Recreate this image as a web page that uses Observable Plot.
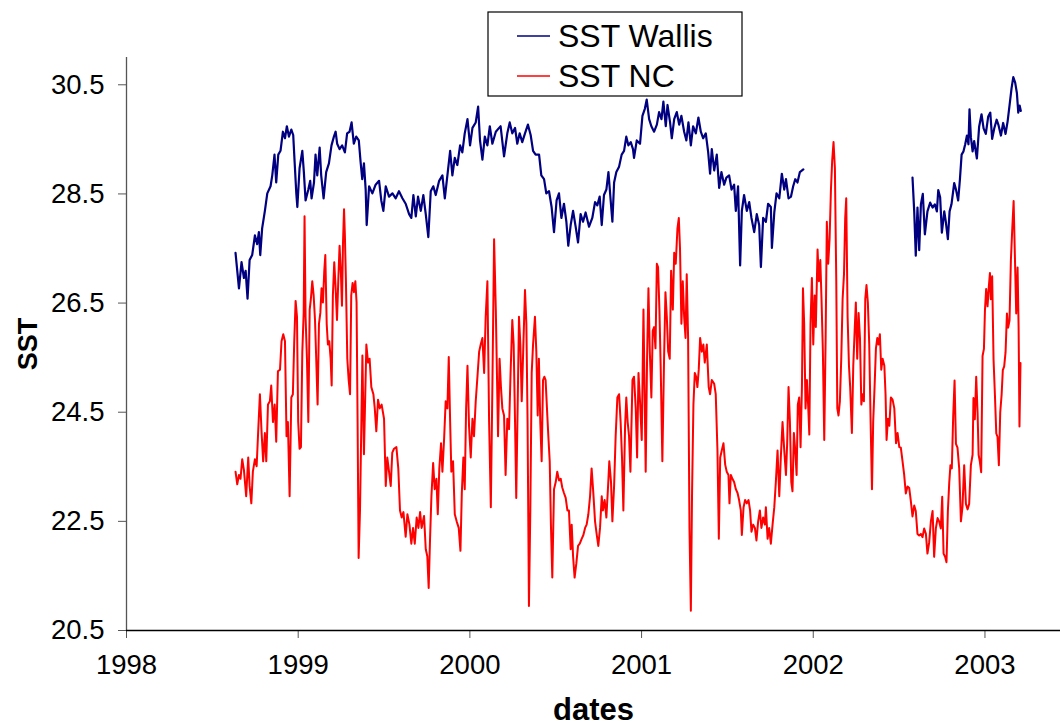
<!DOCTYPE html>
<html>
<head>
<meta charset="utf-8">
<script src="https://cdn.jsdelivr.net/npm/d3@7"></script>
<script src="https://cdn.jsdelivr.net/npm/@observablehq/plot@0.6"></script>
<style>
  html, body { margin: 0; padding: 0; background: #ffffff; }
  #wrap { position: relative; width: 1060px; height: 727px; font-family: "Liberation Sans", Arial, sans-serif; }
  #legend { position: absolute; left: 488px; top: 12px; }
</style>
</head>
<body>
<div id="wrap"></div>
<script>
// ---- Data (decimal years, SST in °C) ----
const yearTicks = [1998, 1999, 2000, 2001, 2002, 2003];
const sstTicks = [20.5, 22.5, 24.5, 26.5, 28.5, 30.5];
const seriesNames = ["SST Wallis", "SST NC"];

// SST Wallis, first segment (Aug 1998 - Dec 2001)
const wallisYears1 = [
1998.635,1998.655,1998.670,1998.684,1998.694,1998.705,1998.717,1998.732,1998.748,1998.761,
1998.771,1998.779,1998.790,1998.806,1998.820,1998.839,1998.849,1998.862,1998.872,1998.884,
1998.897,1998.911,1998.923,1998.934,1998.946,1998.960,1998.971,1998.979,1998.989,1998.995,
1999.008,1999.024,1999.033,1999.043,1999.059,1999.070,1999.078,1999.092,1999.101,1999.111,
1999.125,1999.134,1999.148,1999.163,1999.179,1999.194,1999.208,1999.218,1999.227,1999.241,
1999.256,1999.272,1999.285,1999.299,1999.311,1999.324,1999.338,1999.353,1999.363,1999.373,
1999.383,1999.393,1999.399,1999.413,1999.432,1999.451,1999.471,1999.484,1999.496,1999.510,
1999.529,1999.549,1999.568,1999.587,1999.607,1999.626,1999.646,1999.659,1999.671,1999.685,
1999.698,1999.714,1999.729,1999.743,1999.758,1999.772,1999.787,1999.801,1999.821,1999.840,
1999.854,1999.869,1999.885,1999.898,1999.912,1999.927,1999.943,1999.956,1999.970,1999.986,
2000.001,2000.015,2000.034,2000.048,2000.059,2000.073,2000.087,2000.102,2000.116,2000.131,
2000.151,2000.170,2000.179,2000.199,2000.218,2000.232,2000.247,2000.263,2000.276,2000.290,
2000.305,2000.321,2000.338,2000.354,2000.368,2000.383,2000.403,2000.416,2000.432,2000.445,
2000.461,2000.476,2000.490,2000.505,2000.519,2000.533,2000.548,2000.562,2000.573,2000.587,
2000.601,2000.616,2000.630,2000.645,2000.659,2000.674,2000.694,2000.713,2000.729,2000.742,
2000.756,2000.768,2000.781,2000.795,2000.807,2000.820,2000.830,2000.840,2000.853,2000.869,
2000.884,2000.898,2000.911,2000.923,2000.937,2000.950,2000.956,2000.972,2000.991,2001.005,
2001.019,2001.030,2001.044,2001.057,2001.073,2001.089,2001.102,2001.116,2001.127,2001.141,
2001.151,2001.166,2001.176,2001.190,2001.205,2001.219,2001.232,2001.248,2001.261,2001.273,
2001.287,2001.300,2001.316,2001.331,2001.345,2001.359,2001.374,2001.388,2001.399,2001.409,
2001.423,2001.438,2001.452,2001.465,2001.481,2001.494,2001.510,2001.524,2001.539,2001.549,
2001.562,2001.574,2001.584,2001.597,2001.613,2001.627,2001.640,2001.656,2001.671,2001.685,
2001.695,2001.708,2001.724,2001.737,2001.753,2001.759,2001.773,2001.786,2001.802,2001.817,
2001.831,2001.841,2001.856,2001.870,2001.883,2001.895,2001.908,2001.922,2001.942
];
const wallisSST1 = [
27.42,26.77,27.25,26.96,27.09,26.58,27.29,27.38,27.74,27.58,
27.80,27.38,27.87,28.19,28.51,28.64,28.84,29.22,28.71,29.22,
29.29,29.64,29.52,29.74,29.55,29.68,29.58,29.10,28.51,28.26,
28.97,29.29,28.90,28.38,28.58,28.74,28.42,28.71,29.22,28.84,
29.35,28.84,28.42,28.90,29.06,29.39,29.55,29.64,29.42,29.32,
29.39,29.26,29.61,29.64,29.81,29.42,29.55,29.48,29.10,28.77,
29.06,28.58,27.93,28.64,28.51,28.67,28.74,28.38,28.19,28.64,
28.45,28.51,28.42,28.55,28.42,28.32,28.13,28.06,28.48,28.09,
28.45,28.19,28.48,28.13,27.71,28.55,28.64,28.48,28.74,28.84,
28.42,28.84,29.29,28.84,29.16,29.03,29.39,29.26,29.61,29.87,
29.39,29.71,29.81,30.10,29.48,29.13,29.55,29.39,29.74,29.42,
29.64,29.71,29.74,29.19,29.61,29.81,29.61,29.71,29.42,29.61,
29.45,29.61,29.77,29.58,29.29,29.22,29.22,28.84,28.77,28.51,
28.55,28.26,27.80,28.38,28.51,28.06,28.32,27.99,27.55,27.93,
28.19,27.90,27.61,28.13,27.99,28.16,27.90,28.06,28.35,28.29,
28.45,27.93,28.48,28.58,28.90,28.38,27.99,28.71,28.90,29.00,
29.22,29.29,29.55,29.39,29.45,29.32,29.16,29.48,29.42,29.93,
30.06,30.23,29.87,29.74,29.64,29.77,30.00,29.87,30.19,29.74,
30.13,29.81,29.52,29.87,30.00,29.77,29.93,29.64,29.48,29.81,
29.39,29.74,29.61,29.90,29.64,29.52,29.61,29.26,28.87,29.32,
28.93,29.22,28.61,28.90,28.67,28.80,28.84,28.58,28.67,28.19,
28.64,27.19,28.19,28.48,28.19,28.35,28.06,27.80,28.13,27.93,
27.16,28.06,27.99,28.32,28.26,27.51,28.16,28.51,28.42,28.87,
28.58,28.77,28.42,28.45,28.64,28.77,28.71,28.90,28.95
];

// SST Wallis, second segment (Jul 2002 - Mar 2003)
const wallisYears2 = [
2002.578,2002.588,2002.597,2002.607,2002.617,2002.627,2002.638,2002.650,2002.665,2002.681,
2002.695,2002.708,2002.720,2002.728,2002.739,2002.749,2002.763,2002.772,2002.784,2002.794,
2002.805,2002.821,2002.832,2002.844,2002.854,2002.864,2002.875,2002.885,2002.895,2002.904,
2002.910,2002.918,2002.928,2002.937,2002.953,2002.966,2002.980,2002.992,2003.005,2003.019,
2003.031,2003.042,2003.054,2003.068,2003.079,2003.093,2003.106,2003.120,2003.132,2003.143,
2003.155,2003.165,2003.176,2003.186,2003.194,2003.202,2003.209
];
const wallisSST2 = [
28.80,28.18,27.37,28.25,27.47,28.31,28.50,27.76,28.18,28.34,
28.25,28.31,28.18,28.57,28.44,27.79,28.18,27.99,27.67,28.18,
28.31,28.70,28.57,28.38,28.76,29.22,29.28,29.41,29.57,29.41,
30.05,29.54,29.28,29.47,29.15,29.73,29.96,29.70,29.60,29.92,
29.99,29.51,29.70,29.86,29.76,29.57,29.80,29.60,29.83,30.12,
30.44,30.64,30.54,30.35,29.99,30.12,30.02
];

// SST NC (Aug 1998 - Mar 2003)
const ncYears = [
1998.635,1998.645,1998.655,1998.664,1998.674,1998.684,1998.697,1998.709,1998.717,1998.727,
1998.736,1998.748,1998.758,1998.767,1998.777,1998.787,1998.796,1998.806,1998.814,1998.824,
1998.835,1998.843,1998.853,1998.863,1998.872,1998.882,1998.894,1998.903,1998.913,1998.923,
1998.932,1998.940,1998.950,1998.960,1998.969,1998.977,1998.985,1998.993,1999.000,1999.008,
1999.016,1999.024,1999.032,1999.037,1999.043,1999.051,1999.059,1999.067,1999.074,1999.082,
1999.090,1999.098,1999.105,1999.113,1999.121,1999.129,1999.136,1999.144,1999.152,1999.158,
1999.166,1999.173,1999.181,1999.189,1999.195,1999.202,1999.210,1999.218,1999.226,1999.234,
1999.241,1999.249,1999.255,1999.261,1999.267,1999.272,1999.278,1999.286,1999.294,1999.302,
1999.309,1999.317,1999.325,1999.333,1999.340,1999.346,1999.352,1999.360,1999.368,1999.374,
1999.383,1999.397,1999.407,1999.416,1999.426,1999.438,1999.446,1999.455,1999.465,1999.475,
1999.486,1999.500,1999.510,1999.519,1999.529,1999.539,1999.548,1999.558,1999.572,1999.583,
1999.593,1999.603,1999.613,1999.626,1999.636,1999.648,1999.659,1999.669,1999.679,1999.690,
1999.700,1999.710,1999.719,1999.733,1999.743,1999.752,1999.760,1999.768,1999.776,1999.786,
1999.795,1999.805,1999.813,1999.822,1999.832,1999.840,1999.850,1999.859,1999.869,1999.877,
1999.885,1999.892,1999.902,1999.912,1999.923,1999.935,1999.945,1999.953,1999.962,1999.970,
1999.978,1999.986,1999.995,2000.005,2000.015,2000.024,2000.034,2000.044,2000.054,2000.063,
2000.073,2000.083,2000.092,2000.102,2000.112,2000.122,2000.131,2000.141,2000.151,2000.164,
2000.173,2000.181,2000.189,2000.199,2000.208,2000.218,2000.228,2000.237,2000.247,2000.255,
2000.263,2000.270,2000.278,2000.286,2000.294,2000.302,2000.311,2000.321,2000.329,2000.336,
2000.344,2000.352,2000.360,2000.368,2000.379,2000.387,2000.395,2000.402,2000.410,2000.418,
2000.426,2000.434,2000.441,2000.451,2000.457,2000.465,2000.472,2000.480,2000.490,2000.500,
2000.509,2000.519,2000.529,2000.538,2000.548,2000.558,2000.568,2000.577,2000.587,2000.593,
2000.601,2000.610,2000.620,2000.630,2000.640,2000.651,2000.661,2000.671,2000.680,2000.690,
2000.700,2000.709,2000.719,2000.729,2000.739,2000.748,2000.758,2000.768,2000.775,2000.785,
2000.795,2000.805,2000.812,2000.822,2000.830,2000.840,2000.849,2000.859,2000.869,2000.878,
2000.886,2000.894,2000.904,2000.911,2000.919,2000.927,2000.935,2000.947,2000.956,2000.966,
2000.974,2000.982,2000.991,2001.001,2001.011,2001.019,2001.024,2001.032,2001.040,2001.048,
2001.057,2001.065,2001.073,2001.081,2001.089,2001.096,2001.104,2001.112,2001.121,2001.131,
2001.139,2001.147,2001.155,2001.164,2001.172,2001.182,2001.190,2001.199,2001.209,2001.217,
2001.224,2001.232,2001.240,2001.248,2001.256,2001.263,2001.271,2001.279,2001.287,2001.294,
2001.302,2001.310,2001.318,2001.325,2001.333,2001.341,2001.351,2001.360,2001.368,2001.380,
2001.391,2001.399,2001.409,2001.423,2001.432,2001.442,2001.450,2001.458,2001.467,2001.477,
2001.487,2001.496,2001.506,2001.512,2001.520,2001.529,2001.539,2001.549,2001.559,2001.568,
2001.578,2001.584,2001.594,2001.603,2001.613,2001.623,2001.632,2001.640,2001.650,2001.660,
2001.669,2001.679,2001.689,2001.698,2001.708,2001.718,2001.724,2001.734,2001.743,2001.753,
2001.763,2001.773,2001.782,2001.792,2001.802,2001.811,2001.821,2001.831,2001.841,2001.848,
2001.856,2001.864,2001.872,2001.879,2001.887,2001.895,2001.903,2001.910,2001.918,2001.926,
2001.934,2001.940,2001.947,2001.955,2001.963,2001.971,2001.977,2001.984,2001.992,2002.000,
2002.008,2002.015,2002.025,2002.033,2002.041,2002.048,2002.056,2002.064,2002.072,2002.079,
2002.087,2002.095,2002.103,2002.110,2002.118,2002.126,2002.134,2002.140,2002.147,2002.155,
2002.163,2002.171,2002.179,2002.186,2002.192,2002.200,2002.208,2002.215,2002.225,2002.233,
2002.241,2002.248,2002.256,2002.264,2002.272,2002.280,2002.287,2002.295,2002.303,2002.310,
2002.318,2002.326,2002.334,2002.342,2002.349,2002.357,2002.365,2002.373,2002.380,2002.388,
2002.396,2002.404,2002.414,2002.421,2002.427,2002.435,2002.443,2002.452,2002.462,2002.472,
2002.482,2002.491,2002.501,2002.510,2002.520,2002.529,2002.539,2002.549,2002.559,2002.568,
2002.578,2002.588,2002.597,2002.607,2002.617,2002.627,2002.636,2002.646,2002.656,2002.665,
2002.675,2002.685,2002.695,2002.704,2002.714,2002.724,2002.733,2002.743,2002.751,2002.759,
2002.768,2002.776,2002.784,2002.792,2002.799,2002.807,2002.815,2002.823,2002.831,2002.840,
2002.850,2002.860,2002.869,2002.879,2002.889,2002.899,2002.908,2002.918,2002.928,2002.933,
2002.941,2002.949,2002.957,2002.963,2002.970,2002.978,2002.986,2002.994,2003.000,2003.007,
2003.015,2003.023,2003.029,2003.034,2003.042,2003.050,2003.058,2003.066,2003.073,2003.081,
2003.089,2003.097,2003.104,2003.112,2003.120,2003.128,2003.135,2003.143,2003.151,2003.159,
2003.167,2003.174,2003.182,2003.190,2003.196,2003.201,2003.207
];
const ncSST = [
23.41,23.18,23.35,23.28,23.64,23.44,22.96,23.67,23.15,22.83,
23.41,23.64,23.51,24.15,24.83,24.12,23.60,24.12,23.60,24.64,
24.70,24.99,24.32,24.64,23.96,25.25,25.28,25.80,25.93,25.80,
24.06,24.32,22.96,24.77,24.83,25.80,26.54,26.25,24.32,23.83,
23.86,25.61,26.32,28.09,26.25,25.48,24.32,26.38,26.58,26.90,
26.64,26.19,25.48,24.64,26.12,26.32,26.77,26.51,27.09,27.38,
26.12,25.74,25.80,25.48,24.99,26.64,27.25,26.77,26.19,26.96,
27.55,27.03,26.45,27.61,28.22,27.74,26.90,25.48,25.09,24.83,
26.64,26.87,26.70,26.90,26.51,24.32,21.83,22.70,24.32,25.54,
23.73,25.74,25.41,25.48,24.96,24.83,24.57,24.15,24.73,24.57,
24.64,24.38,23.15,23.67,23.41,23.15,23.76,23.83,23.86,23.47,
22.70,22.57,22.67,22.22,22.63,22.44,22.09,22.38,22.09,22.57,
22.38,22.67,22.38,22.60,21.99,21.86,21.28,22.18,22.96,23.57,
23.09,23.28,22.63,23.47,23.93,23.41,24.02,24.70,24.57,25.51,
24.32,23.41,23.60,22.63,22.50,22.38,21.96,23.02,23.67,23.09,
24.57,25.35,24.25,23.67,24.38,24.06,24.70,25.15,25.61,25.74,
25.86,25.22,26.25,26.90,24.32,22.76,24.96,27.67,26.38,24.06,
25.48,24.96,24.57,24.44,23.35,24.38,24.19,25.22,26.19,25.74,
24.32,22.93,24.57,26.25,25.74,24.70,25.67,26.74,26.12,24.32,
20.95,22.70,25.22,25.74,26.25,25.61,24.44,25.48,24.32,23.60,
25.09,25.15,25.09,24.44,24.06,23.60,22.44,21.47,23.09,23.22,
23.41,23.25,23.28,23.12,23.02,22.93,22.70,22.70,21.99,22.44,
21.86,21.47,21.73,22.05,22.09,22.18,22.25,22.38,22.44,22.63,
22.96,23.47,23.02,22.50,22.25,22.05,22.38,22.96,22.70,22.89,
22.57,23.15,23.60,23.22,22.50,23.15,24.06,24.77,24.83,24.32,
23.67,22.70,24.25,24.77,24.32,24.06,23.41,25.09,25.15,24.57,
23.67,25.22,24.70,23.99,26.38,24.57,23.41,25.48,26.77,25.61,
24.77,25.99,26.06,25.67,27.22,27.16,26.38,25.22,23.60,25.48,
26.70,26.25,25.61,25.48,27.09,26.38,27.42,27.22,27.87,28.06,
27.48,26.12,26.90,26.25,25.86,27.03,25.86,22.38,20.86,23.02,
24.64,25.22,25.15,24.96,25.28,25.86,25.61,25.74,25.41,25.74,
24.96,24.83,25.09,25.02,24.83,23.80,22.18,23.67,23.80,23.93,
23.54,23.41,23.35,22.83,23.35,23.28,23.22,23.09,23.02,22.89,
22.70,22.25,22.76,22.89,22.83,22.89,22.70,22.31,22.44,22.38,
22.15,22.50,22.70,22.38,22.57,22.44,22.76,22.18,22.38,22.09,
22.44,22.76,23.22,23.80,22.96,23.67,24.32,23.80,23.35,23.93,
24.96,24.32,23.22,23.05,24.12,23.80,23.35,24.64,24.77,23.86,
24.96,26.77,26.12,24.57,25.09,24.57,24.09,26.12,26.96,25.74,
26.64,26.06,27.48,26.90,27.29,26.58,25.61,23.99,25.86,27.99,
27.22,27.67,28.58,29.10,29.45,28.97,26.90,24.57,24.44,24.70,
25.48,26.58,27.03,28.06,28.42,26.25,25.35,24.96,24.12,25.35,
25.99,26.51,25.48,26.32,25.86,24.64,24.83,24.70,26.58,26.83,
26.51,25.74,24.32,23.09,24.32,24.96,25.67,25.86,25.74,25.93,
25.28,25.48,25.35,24.83,23.99,24.38,24.25,24.77,24.73,24.57,
23.93,24.12,23.86,23.85,23.60,23.37,23.01,23.14,23.11,22.88,
22.59,22.79,22.69,22.27,22.24,22.27,22.21,22.37,22.27,21.91,
22.11,22.50,22.69,21.85,22.37,22.56,22.50,22.37,22.95,21.91,
21.85,21.75,22.69,23.21,23.53,23.47,24.43,25.08,23.92,23.85,
23.47,22.50,22.76,23.53,22.82,22.72,22.82,23.53,23.72,24.76,
24.37,25.15,24.50,23.72,23.60,23.40,25.53,25.66,26.37,26.76,
26.44,26.82,27.05,26.57,26.99,25.47,24.82,24.11,24.05,23.53,
24.50,24.82,25.27,25.34,25.60,26.31,26.05,26.18,27.28,27.86,
28.37,27.41,26.31,27.15,26.05,24.24,25.40
];

// ---- Build tables for the library ----
const toRows = (ts, vs, name) => ts.map((t, i) => ({t, v: vs[i], name}));
const wallisA = toRows(wallisYears1, wallisSST1, seriesNames[0]);
const wallisB = toRows(wallisYears2, wallisSST2, seriesNames[0]);
const nc = toRows(ncYears, ncSST, seriesNames[1]);
const colors = {"SST Wallis": "#000080", "SST NC": "#ff0000"};

const FONT = '"Liberation Sans", Arial, Helvetica, sans-serif';

const chart = Plot.plot({
  width: 1060,
  height: 727,
  marginLeft: 126,
  marginRight: 0,
  marginTop: 57,
  marginBottom: 97,
  style: {fontFamily: FONT, background: "white", overflow: "visible"},
  x: {domain: [1998, 2003.44], ticks: yearTicks, tickFormat: d => String(d)},
  y: {domain: [20.5, 31], ticks: sstTicks, tickFormat: d3.format(".1f")},
  marks: [
    Plot.axisX({ticks: yearTicks, tickFormat: d => String(d), tickSize: 8, tickPadding: 16,
                fontSize: 27.5, label: null, stroke: "#555", fill: "black"}),
    Plot.axisY({ticks: sstTicks, tickFormat: d3.format(".1f"), tickSize: 8, tickPadding: 14,
                fontSize: 27.5, label: null, stroke: "#555", fill: "black"}),
    Plot.ruleX([1998], {stroke: "#555", strokeWidth: 1.3}),
    Plot.ruleY([20.5], {stroke: "black", strokeWidth: 1.3}),
    Plot.line(nc, {x: "t", y: "v", stroke: colors["SST NC"], strokeWidth: 2, strokeLinejoin: "round"}),
    Plot.line(wallisA, {x: "t", y: "v", stroke: colors["SST Wallis"], strokeWidth: 2.2, strokeLinejoin: "round"}),
    Plot.line(wallisB, {x: "t", y: "v", stroke: colors["SST Wallis"], strokeWidth: 2.2, strokeLinejoin: "round"}),
    Plot.text(["SST"], {frameAnchor: "left", dx: -98, rotate: -90, fontSize: 27, fontWeight: "bold",
                        fill: "black", textAnchor: "middle", lineAnchor: "middle"}),
    Plot.text(["dates"], {frameAnchor: "bottom", dy: 80, fontSize: 31, fontWeight: "bold",
                          fill: "black", textAnchor: "middle", lineAnchor: "middle"})
  ]
});

const wrap = document.getElementById("wrap");
chart.style.position = "absolute";
chart.style.left = "0px";
chart.style.top = "0px";
wrap.appendChild(chart);

// ---- Legend (box with line swatches) ----
const ns = "http://www.w3.org/2000/svg";
const leg = document.createElementNS(ns, "svg");
leg.setAttribute("id", "legend");
leg.setAttribute("width", 256);
leg.setAttribute("height", 86);
leg.style.position = "absolute";
leg.style.left = "487px";
leg.style.top = "11px";
const box = document.createElementNS(ns, "rect");
box.setAttribute("x", 1); box.setAttribute("y", 1);
box.setAttribute("width", 254); box.setAttribute("height", 84);
box.setAttribute("fill", "white"); box.setAttribute("stroke", "black"); box.setAttribute("stroke-width", 1.2);
leg.appendChild(box);
seriesNames.forEach((name, i) => {
  const cy = 25 + i * 40;
  const ln = document.createElementNS(ns, "line");
  ln.setAttribute("x1", 30); ln.setAttribute("x2", 63);
  ln.setAttribute("y1", cy); ln.setAttribute("y2", cy);
  ln.setAttribute("stroke", colors[name]); ln.setAttribute("stroke-width", 1.5);
  leg.appendChild(ln);
  const tx = document.createElementNS(ns, "text");
  tx.setAttribute("x", 71); tx.setAttribute("y", cy + 11);
  tx.setAttribute("font-family", FONT); tx.setAttribute("font-size", 32);
  tx.setAttribute("fill", "black");
  tx.textContent = name;
  leg.appendChild(tx);
});
wrap.appendChild(leg);
</script>
</body>
</html>
